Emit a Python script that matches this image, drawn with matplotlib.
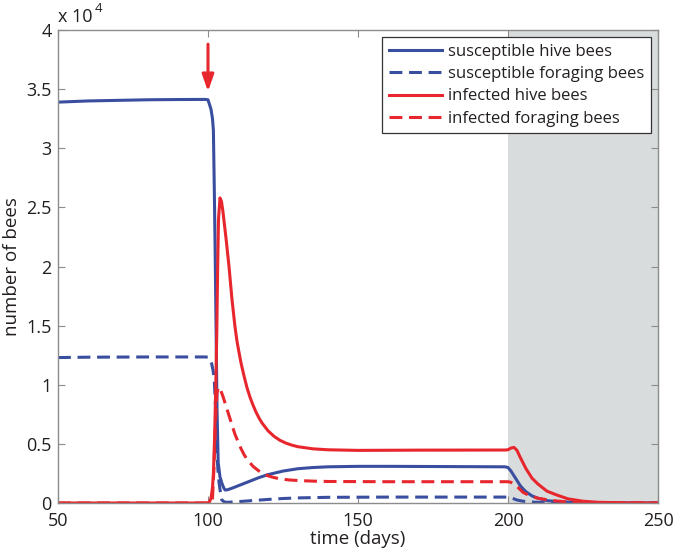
import matplotlib
matplotlib.use("Agg")
import matplotlib.pyplot as plt
from matplotlib.ticker import FuncFormatter
import numpy as np

plt.rcParams['font.family'] = ['Open Sans', 'DejaVu Sans']

# susceptible hive bees
t_sh = [50, 60, 70, 80, 90, 99, 100, 100.5, 101, 101.5, 101.8, 102.1, 102.4, 102.7, 103, 103.4, 104, 104.6, 105.2, 105.7,
        106.5, 108, 110, 112, 114, 117, 120, 125, 130, 135, 140, 150, 160, 180, 199, 200, 201, 202, 203, 204, 205, 206, 208,
        210, 213, 217, 225, 235, 250]
s_hive = [33900, 34000, 34050, 34100, 34120, 34130, 34100, 33700, 33300, 32500, 31500, 26500, 21000, 14600, 8000, 3400, 2200,
          1700, 1300, 1100, 1120, 1250, 1450, 1650, 1850, 2150, 2400, 2700, 2900, 3000, 3060, 3100, 3100, 3080, 3060, 3000,
          2700, 2300, 1900, 1500, 1200, 950, 600, 400, 200, 100, 30, 5, 0]

# susceptible foraging bees
t_sf = [50, 60, 80, 95, 99, 100, 100.5, 101.2, 101.7, 102.1, 102.6, 102.9, 103.3, 103.7, 104.2, 104.6, 105.5, 106.5, 108,
        112, 116, 120, 125, 130, 140, 160, 199, 200, 201, 202, 203, 205, 208, 212, 220, 250]
s_forage = [12300, 12330, 12350, 12350, 12350, 12330, 12250, 11800, 11200, 10400, 7600, 4700, 2800, 1700, 800, 250, 80, 60,
            80, 150, 230, 300, 380, 430, 480, 500, 500, 490, 450, 350, 250, 150, 80, 30, 10, 0]

# infected hive bees
t_ih = [50, 99, 100, 100.5, 101, 101.5, 101.8, 102.2, 102.6, 102.9, 103.2, 103.5, 104, 104.5, 105, 105.5, 106, 107, 108, 109,
        109.6, 110, 111, 112, 113, 114, 115, 116, 117, 118, 120, 122, 124, 126, 128, 130, 135, 140, 150, 170, 199, 200, 201,
        202, 203, 204, 205, 206, 208, 210, 213, 216, 220, 225, 230, 240, 250]
i_hive = [0, 0, 0, 100, 400, 1300, 2500, 5500, 10000, 14000, 19500, 24000, 25800, 25500, 24600, 23500, 22400, 20000, 17200,
          14900, 13800, 13200, 11850, 10750, 9750, 8950, 8280, 7690, 7190, 6770, 6110, 5640, 5300, 5060, 4890, 4760, 4580,
          4500, 4450, 4470, 4480, 4500, 4650, 4700, 4450, 3900, 3400, 2900, 2100, 1600, 1000, 700, 350, 150, 60, 10, 0]

# infected foraging bees
t_if = [50, 100, 101, 101.5, 102, 102.5, 103, 103.5, 104, 105, 106, 107, 108, 109, 110, 111, 112, 113, 114, 115, 116, 117,
        118, 120, 122, 124, 127, 130, 135, 140, 160, 199, 200, 201, 202, 203, 205, 207, 210, 215, 220, 230, 250]
i_forage = [0, 0, 50, 400, 3000, 7000, 9300, 9800, 9700, 9000, 8200, 7400, 6600, 5800, 5200, 4600, 4100, 3700, 3400, 3100,
            2900, 2700, 2550, 2300, 2150, 2050, 1950, 1900, 1850, 1820, 1800, 1800, 1800, 1750, 1600, 1400, 900, 650, 400,
            200, 80, 20, 0]

labels = ['susceptible hive bees', 'susceptible foraging bees', 'infected hive bees', 'infected foraging bees']

blue = '#3a4ea0'
red = '#e8262d'
dash = (4.2, 2.2)

fig = plt.figure(figsize=(6.75, 5.53), dpi=100)
ax = fig.add_axes([58 / 675, 50 / 553, 600 / 675, 473 / 553])

ax.axvspan(200, 250, color='#d9dcdd', zorder=0, lw=0)

lw = 2.2
ax.plot(t_sh, s_hive, color=blue, lw=lw, label=labels[0], zorder=3)
ax.plot(t_sf, s_forage, color=blue, lw=lw, ls=(0, dash), label=labels[1], zorder=3)
ax.plot(t_ih, i_hive, color=red, lw=lw, label=labels[2], zorder=3)
ax.plot(t_if, i_forage, color=red, lw=lw, ls=(0, dash), label=labels[3], zorder=3)

ax.annotate('', xy=(100, 34800), xytext=(100, 38800),
            arrowprops=dict(arrowstyle='-|>,head_width=0.35,head_length=1.0', color=red, lw=2.2,
                            shrinkA=0, shrinkB=0), zorder=5)

ax.set_xlim(50, 250)
ax.set_ylim(0, 40000)
ax.set_xticks([50, 100, 150, 200, 250])
ax.set_yticks(np.arange(0, 40001, 5000))
ax.yaxis.set_major_formatter(FuncFormatter(lambda v, p: '%g' % (v / 1e4)))

for s in ax.spines.values():
    s.set_color('#8c8c8c')
    s.set_linewidth(1.0)
    s.set_zorder(6)
ax.tick_params(direction='in', length=5, width=0.8, color='#8c8c8c', top=True, right=True,
               labelsize=13, labelcolor='#231f20')
ax.tick_params(axis='x', pad=6.5)
ax.tick_params(axis='y', pad=4.5)

ax.set_xlabel('time (days)', fontsize=13.5, color='#231f20', labelpad=0)
ax.set_ylabel('number of bees', fontsize=13.5, color='#231f20', labelpad=4)

ax.text(0.0, 1.008, 'x 10', transform=ax.transAxes, fontsize=13, color='#231f20', ha='left', va='bottom')
ax.text(0.061, 1.032, '4', transform=ax.transAxes, fontsize=9.5, color='#231f20', ha='left', va='bottom')

leg = ax.legend(loc='upper right', fontsize=12, frameon=True, fancybox=False, borderaxespad=0.42,
                handlelength=3.2, handletextpad=0.35, labelspacing=0.38, borderpad=0.4)
leg.get_frame().set_edgecolor('#333333')
leg.get_frame().set_linewidth(0.9)
leg.get_frame().set_alpha(1)
for t in leg.get_texts():
    t.set_color('#231f20')

fig.savefig('out.png', dpi=100)
